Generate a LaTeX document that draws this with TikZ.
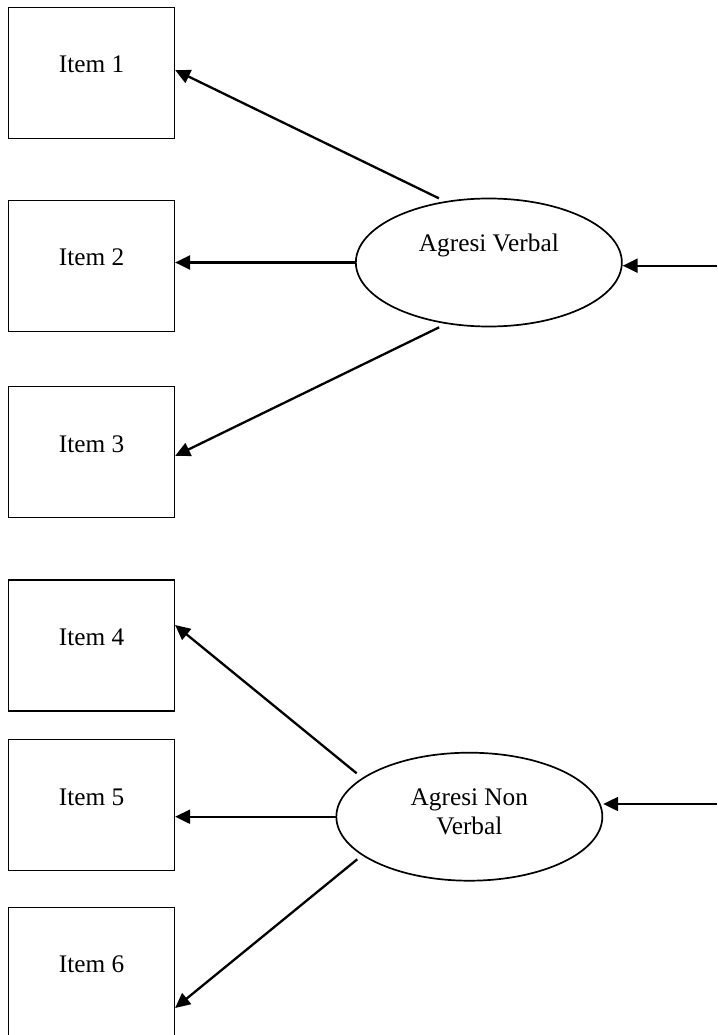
\documentclass[tikz,border=0pt]{standalone}
\usepackage{fontspec}
\setmainfont{Liberation Serif}
\usetikzlibrary{arrows.meta,shapes.geometric}
\tikzset{
  itembox/.style={draw, line width=1.2pt, rectangle, minimum width=166pt, minimum height=131pt, inner sep=0pt, font=\fontsize{25.3}{29}\selectfont},
  latent/.style={draw, line width=1.7pt, ellipse, minimum width=266pt, minimum height=128pt, inner sep=0pt, font=\fontsize{25.3}{29}\selectfont},
  conn/.style={line width=2.3pt, -{Triangle[length=15pt,width=14pt]}},
}
\begin{document}
\begin{tikzpicture}[x=1pt,y=-1pt]
\useasboundingbox (0,0) rectangle (717,1035);
\clip (0,0) rectangle (717,1035);
\node[itembox] (i1) at (91.5,73) {\raisebox{0pt}[0pt][0pt]{Item 1}};
\node[itembox] (i2) at (91.5,265.75) {\raisebox{0pt}[0pt][0pt]{Item 2}};
\node[itembox] (i3) at (91.5,452.2) {\raisebox{0pt}[0pt][0pt]{Item 3}};
\node[itembox] (i4) at (91.5,645.5) {\raisebox{0pt}[0pt][0pt]{Item 4}};
\node[itembox] (i5) at (91.5,805) {\raisebox{0pt}[0pt][0pt]{Item 5}};
\node[itembox] (i6) at (91.5,972.8) {\raisebox{0pt}[0pt][0pt]{Item 6}};
\node[latent] (ev) at (488.85,262.5) {\raisebox{11.5pt}[0pt][0pt]{Agresi Verbal}};
\node[latent] (en) at (469.35,816.7) {\raisebox{-18pt}[0pt][0pt]{\begin{tabular}[b]{@{}c@{}}Agresi Non\\Verbal\end{tabular}}};
\coordinate (rv) at (717,265.7);
\coordinate (rn) at (717,804);
% Agresi Verbal
\draw[conn] ([xshift=-50pt,yshift=64.2pt]ev.center) -- ([yshift=3pt]i1.east);
\draw[conn] (ev.west) -- (ev.west -| i2.east);
\draw[conn] ([xshift=-49.7pt,yshift=-64.8pt]ev.center) -- ([yshift=-3.8pt]i3.east);
\draw[conn] (rv) -- ([yshift=-3.2pt]ev.east);
% Agresi Non Verbal
\draw[conn] ([xshift=-112.7pt,yshift=43.4pt]en.center) -- ([yshift=20.5pt]i4.east);
\draw[conn] (en.west) -- (en.west -| i5.east);
\draw[conn] ([xshift=-112.1pt,yshift=-42.6pt]en.center) -- ([yshift=-35.2pt]i6.east);
\draw[conn] (rn) -- ([yshift=12.7pt]en.east);
\end{tikzpicture}
\end{document}
